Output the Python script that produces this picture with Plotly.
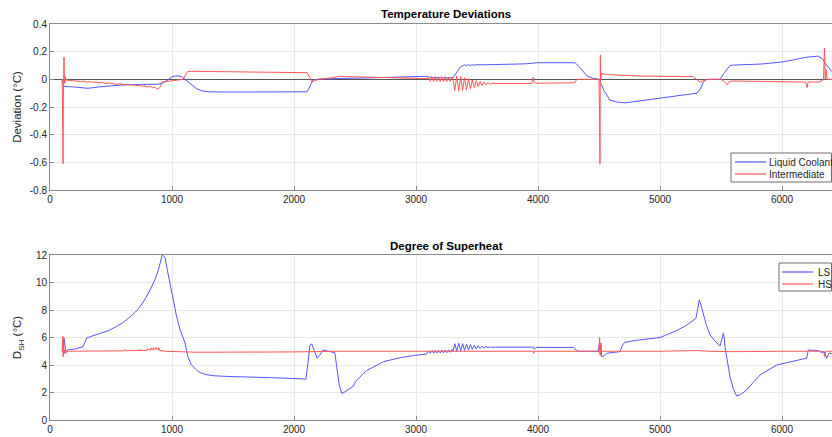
import plotly.graph_objects as go

# ---------------- Temperature deviations (top panel) ----------------
lc_t = [100, 108, 115, 200, 260, 311, 400, 500, 600, 700, 800, 880, 926, 960,
        1008, 1049, 1080, 1107, 1150, 1205, 1254, 1300, 1500, 2000, 2107, 2120,
        2140, 2156, 2200, 2400, 2600, 2800, 3000, 3090,
        3110, 3125, 3140, 3160, 3180, 3200, 3220, 3240, 3260, 3280, 3303,
        3330, 3360, 3385, 3400, 3415, 3430, 3445, 3460, 3480, 3500, 3550, 3700,
        3900, 3992, 4100, 4250, 4303, 4340, 4400, 4450, 4483, 4505, 4515, 4540,
        4590, 4650, 4713, 4800, 5000, 5200, 5303, 5330, 5356, 5380, 5492, 5530,
        5574, 5600, 5820, 6000, 6090, 6205, 6295, 6330, 6352, 6380, 6410]
lc_v = [0.0, -0.03, -0.052, -0.055, -0.06, -0.065, -0.055, -0.045, -0.04, -0.037,
        -0.035, -0.036, -0.027, -0.005, 0.022, 0.025, 0.02, 0.0, -0.03, -0.07,
        -0.085, -0.09, -0.092, -0.092, -0.09, -0.07, -0.03, -0.005, 0.002, 0.005,
        0.01, 0.015, 0.02, 0.022,
        0.012, 0.018, 0.01, 0.016, 0.009, 0.015, 0.008, 0.014, 0.008, 0.013, 0.01,
        0.05, 0.085, 0.1, 0.105, 0.098, 0.106, 0.1, 0.106, 0.102, 0.106, 0.105,
        0.108, 0.112, 0.12, 0.12, 0.12, 0.12, 0.09, 0.025, 0.008, 0.002, 0.0,
        -0.03, -0.08, -0.15, -0.165, -0.17, -0.16, -0.135, -0.11, -0.1, -0.07,
        -0.02, 0.0, 0.0, 0.05, 0.1, 0.103, 0.11, 0.125, 0.14, 0.16, 0.168, 0.15,
        0.12, 0.085, 0.055]

im_t = [100, 105, 107, 110, 113, 115, 118, 122, 125, 130, 160, 200, 230, 250,
        280, 300, 330, 350, 380, 400, 430, 450, 480, 500, 530, 550, 580, 600,
        630, 650, 680, 700, 730, 750, 780, 800, 820, 840, 860, 870, 887, 900,
        918, 960, 1000, 1050, 1090, 1110, 1125, 1160, 1300, 1600, 1900, 2107,
        2125, 2148, 2170, 2200, 2300, 2377, 2420, 2600, 2800, 3000, 3090,
        3103, 3117, 3130, 3144, 3157, 3171, 3184, 3198, 3211, 3225, 3238, 3252,
        3265, 3279, 3292, 3303,
        3318, 3334, 3350, 3366, 3382, 3398, 3414, 3430, 3446, 3462, 3478, 3494,
        3510, 3526, 3542, 3558, 3574, 3590, 3606, 3622, 3660, 3800, 3950, 3960,
        3968, 3980, 4100, 4250, 4300, 4320, 4400, 4490, 4500, 4505, 4508, 4511,
        4515, 4522, 4533, 4560, 4650, 4800, 5000, 5200, 5270, 5300, 5328, 5370,
        5400, 5500, 5530, 5549, 5570, 5600, 5800, 6000, 6195, 6205, 6215, 6250,
        6300, 6330, 6340, 6348, 6354, 6362, 6370, 6385, 6410]
im_v = [0.0, -0.3, -0.61, -0.1, 0.1, 0.16, 0.0, -0.03, 0.02, -0.005, -0.008,
        -0.012, -0.01, -0.016, -0.013, -0.02, -0.017, -0.022, -0.02, -0.026,
        -0.022, -0.03, -0.026, -0.03, -0.034, -0.036, -0.032, -0.04, -0.036,
        -0.042, -0.04, -0.046, -0.044, -0.05, -0.047, -0.055, -0.05, -0.06,
        -0.056, -0.065, -0.07, -0.06, -0.02, -0.015, -0.01, -0.005, 0.0, 0.03,
        0.055, 0.058, 0.056, 0.053, 0.05, 0.048, 0.02, -0.018, -0.01, 0.0, 0.01,
        0.022, 0.02, 0.015, 0.012, 0.008, 0.005,
        0.016, -0.014, 0.017, -0.015, 0.017, -0.015, 0.018, -0.016, 0.018,
        -0.016, 0.018, -0.016, 0.017, -0.015, 0.016, 0.0,
        -0.08, 0.025, -0.085, 0.02, -0.08, 0.012, -0.075, 0.004, -0.068, -0.004,
        -0.06, -0.01, -0.052, -0.015, -0.045, -0.02, -0.04, -0.024, -0.036,
        -0.028, -0.03, -0.03, -0.03, 0.015, -0.02, -0.028, -0.027, -0.027,
        -0.025, 0.0, 0.0, 0.0, 0.0, -0.3, -0.61, 0.175, 0.0, 0.045, 0.04, 0.035,
        0.03, 0.025, 0.022, 0.02, 0.02, 0.0, -0.02, -0.005, 0.0, 0.0, -0.02,
        -0.04, -0.015, -0.012, -0.015, -0.018, -0.02, -0.06, -0.02, -0.02, -0.02,
        -0.01, 0.0, 0.225, 0.0, 0.07, 0.0, 0.0, 0.0]

# ---------------- Degree of superheat (bottom panel) ----------------
ls_t = [100, 108, 115, 122, 131, 142, 200, 270, 285, 300, 350, 410, 480, 546,
        600, 656, 700, 738, 780, 820, 860, 888, 910, 920, 930, 943, 960, 984,
        1010, 1038, 1065, 1093, 1107, 1130, 1160, 1200, 1230, 1280, 1339, 1450,
        1557, 1800, 2000, 2090, 2098, 2115, 2131, 2145, 2165, 2189, 2210, 2238,
        2280, 2320, 2335, 2350, 2370, 2391, 2410, 2459, 2480, 2514, 2596, 2732,
        2869, 2990, 3088,
        3105, 3118, 3132, 3145, 3159, 3172, 3186, 3199, 3213, 3226, 3240, 3253,
        3267, 3280, 3294, 3303,
        3318, 3334, 3350, 3366, 3382, 3398, 3414, 3430, 3446, 3462, 3478, 3494,
        3510, 3526, 3542, 3558, 3574, 3590, 3606, 3622, 3650,
        3800, 3940, 3962, 3970, 3985, 4100, 4290, 4310, 4330, 4400, 4495, 4505,
        4510, 4515, 4522, 4530, 4545, 4563, 4600, 4672, 4690, 4710, 4809, 5000,
        5137, 5219, 5295, 5310, 5322, 5335, 5355, 5380, 5410, 5450, 5492, 5505,
        5519, 5526, 5533, 5550, 5574, 5600, 5628, 5660, 5710, 5760, 5820, 5956,
        6100, 6202, 6216, 6284, 6300, 6311, 6330, 6345, 6366, 6385, 6410]
ls_v = [5.0, 5.3, 5.96, 5.5, 4.87, 5.1, 5.15, 5.33, 5.6, 5.96, 6.12, 6.3, 6.5,
        6.8, 7.1, 7.5, 7.85, 8.24, 8.8, 9.45, 10.2, 10.9, 11.6, 12.0, 11.95,
        11.8, 11.0, 9.96, 8.7, 7.51, 6.6, 5.96, 5.6, 4.6, 4.0, 3.65, 3.45, 3.3,
        3.22, 3.17, 3.13, 3.08, 3.02, 2.96, 2.97, 4.2, 5.45, 5.53, 5.1, 4.5,
        4.7, 5.09, 5.0, 4.94, 4.9, 3.88, 2.6, 1.94, 2.0, 2.3, 2.4, 2.9, 3.6,
        4.24, 4.53, 4.7, 4.8,
        5.02, 4.85, 5.05, 4.86, 5.06, 4.87, 5.07, 4.88, 5.08, 4.89, 5.09, 4.9,
        5.1, 4.92, 5.12, 5.0,
        5.55, 5.02, 5.58, 5.04, 5.55, 5.07, 5.52, 5.1, 5.48, 5.14, 5.44, 5.18,
        5.4, 5.21, 5.37, 5.24, 5.34, 5.26, 5.32, 5.28, 5.3,
        5.3, 5.3, 5.3, 5.15, 5.28, 5.28, 5.28, 5.1, 5.0, 5.0, 5.0, 5.7, 4.8,
        5.5, 4.6, 4.6, 4.75, 4.85, 4.9, 4.97, 5.4, 5.65, 5.8, 6.0, 6.5, 6.9,
        7.4, 8.2, 8.73, 8.4, 7.76, 6.9, 6.2, 5.75, 5.38, 5.8, 6.3, 6.0, 5.33,
        4.4, 3.15, 2.3, 1.75, 1.85, 2.18, 2.7, 3.27, 4.0, 4.3, 4.5, 5.09, 5.09,
        5.05, 4.97, 4.9, 5.0, 4.48, 4.85, 4.85]

hs_t = [100, 105, 108, 112, 116, 120, 130, 300, 600, 615, 617, 620, 700, 740,
        742, 745, 790, 800, 802, 815, 825, 827, 835, 845, 847, 860, 870, 872,
        880, 890, 892, 900, 950, 1000, 1100, 1200, 2000, 2300, 2350, 3000, 3960,
        3965, 3970, 4500, 4505, 4510, 4515, 4520, 4530, 5000, 5300, 5400, 5500,
        5600, 6000, 6340, 6350, 6360, 6410]
hs_v = [5.0, 6.1, 4.6, 5.8, 4.8, 5.1, 5.0, 5.02, 5.03, 5.12, 5.03, 5.04, 5.05,
        5.05, 5.15, 5.05, 5.06, 5.07, 5.2, 5.08, 5.1, 5.25, 5.1, 5.12, 5.28,
        5.12, 5.15, 5.3, 5.15, 5.12, 5.25, 5.05, 5.0, 4.98, 4.95, 4.93, 4.95,
        4.98, 5.0, 5.0, 5.0, 4.85, 5.0, 5.0, 6.0, 4.7, 5.6, 4.9, 5.0, 5.0, 5.05,
        5.0, 4.97, 4.97, 5.0, 5.0, 4.6, 5.0, 5.0]

x_ticks = [0, 1000, 2000, 3000, 4000, 5000, 6000]
top_ticks = [-0.8, -0.6, -0.4, -0.2, 0, 0.2, 0.4]
top_tick_text = ["-0.8", "-0.6", "-0.4", "-0.2", "0", "0.2", "0.4"]
bot_ticks = [0, 2, 4, 6, 8, 10, 12]
top_names = ["Liquid Coolant", "Intermediate"]
bot_names = ["LS", "HS"]

W, H = 832, 437
BLUE = "rgb(85,85,255)"
RED = "rgb(255,85,85)"
FONT = "Liberation Sans, Arial, sans-serif"
TXT = "#262626"
AX = "#8a8a8a"
GRID = "#e8e8e8"
TICK_SIZE = 10


def px(x):
    return x / W


def py(y):
    return 1 - y / H


fig = go.Figure()
fig.add_trace(go.Scatter(x=lc_t, y=lc_v, mode="lines", name=top_names[0],
                         line=dict(color=BLUE, width=1), xaxis="x", yaxis="y"))
fig.add_trace(go.Scatter(x=im_t, y=im_v, mode="lines", name=top_names[1],
                         line=dict(color=RED, width=1), xaxis="x", yaxis="y"))
fig.add_trace(go.Scatter(x=ls_t, y=ls_v, mode="lines", name=bot_names[0],
                         line=dict(color=BLUE, width=1), xaxis="x2", yaxis="y2"))
fig.add_trace(go.Scatter(x=hs_t, y=hs_v, mode="lines", name=bot_names[1],
                         line=dict(color=RED, width=1), xaxis="x2", yaxis="y2"))

x_left = 50 / W
x_rng = [0, (W - 50) / 0.122]

common_x = dict(range=x_rng, tickvals=x_ticks, showgrid=True, gridcolor=GRID,
                showline=True, linecolor=AX, mirror=True, ticks="inside",
                ticklen=4, tickcolor=AX, zeroline=False,
                tickfont=dict(size=TICK_SIZE, color=TXT, family=FONT))
common_y = dict(showgrid=True, gridcolor=GRID, showline=True, linecolor=AX,
                mirror=True, ticks="inside", ticklen=4, tickcolor=AX,
                tickfont=dict(size=TICK_SIZE, color=TXT, family=FONT))

# Boxed legends drawn as shapes + text, MATLAB style
shapes = []
annotations = [
    dict(text="<b>Temperature Deviations</b>", x=px(446), y=py(14),
         xref="paper", yref="paper", showarrow=False, yanchor="middle",
         font=dict(size=11.5, color="#000000")),
    dict(text="<b>Degree of Superheat</b>", x=px(446), y=py(246),
         xref="paper", yref="paper", showarrow=False, yanchor="middle",
         font=dict(size=11.5, color="#000000")),
]


def add_legend(box, rows, names):
    x0, y0, x1, y1 = box
    shapes.append(dict(type="rect", xref="paper", yref="paper",
                       x0=px(x0), x1=px(x1), y0=py(y0), y1=py(y1),
                       line=dict(color="#6e6e6e", width=1), fillcolor="white",
                       layer="above"))
    for (ly, lx0, lx1, tx), name, col in zip(rows, names, [BLUE, RED]):
        shapes.append(dict(type="line", xref="paper", yref="paper",
                           x0=px(lx0), x1=px(lx1), y0=py(ly), y1=py(ly),
                           line=dict(color=col, width=1.2), layer="above"))
        annotations.append(dict(text=name, x=px(tx), y=py(ly), xref="paper",
                                yref="paper", showarrow=False, xanchor="left",
                                yanchor="middle",
                                font=dict(size=10, color=TXT)))


add_legend((731, 153, 831.5, 182),
           [(162, 735, 766, 767), (174, 735, 766, 767)], top_names)
add_legend((779, 263, 831.5, 291),
           [(272, 782, 813, 816), (284, 782, 813, 816)], bot_names)

fig.update_layout(
    width=W, height=H,
    margin=dict(l=0, r=0, t=0, b=0, autoexpand=False),
    paper_bgcolor="white", plot_bgcolor="white",
    font=dict(family=FONT, color=TXT),
    showlegend=False,
    xaxis=dict(domain=[x_left, 1.0], anchor="y", **common_x),
    yaxis=dict(domain=[py(190), py(24)], anchor="x", range=[-0.8, 0.4],
               tickvals=top_ticks, ticktext=top_tick_text,
               zeroline=True, zerolinecolor="#555555", zerolinewidth=1,
               title=dict(text="Deviation (°C)", font=dict(size=11.5, color=TXT),
                          standoff=5),
               **common_y),
    xaxis2=dict(domain=[x_left, 1.0], anchor="y2", **common_x),
    yaxis2=dict(domain=[py(420), py(255)], anchor="x2", range=[0, 12],
                tickvals=bot_ticks, zeroline=False,
                title=dict(text="D<sub>SH</sub> (°C)",
                           font=dict(size=11.5, color=TXT), standoff=11),
                **common_y),
    shapes=shapes,
    annotations=annotations,
)

fig.write_html("out.html")
